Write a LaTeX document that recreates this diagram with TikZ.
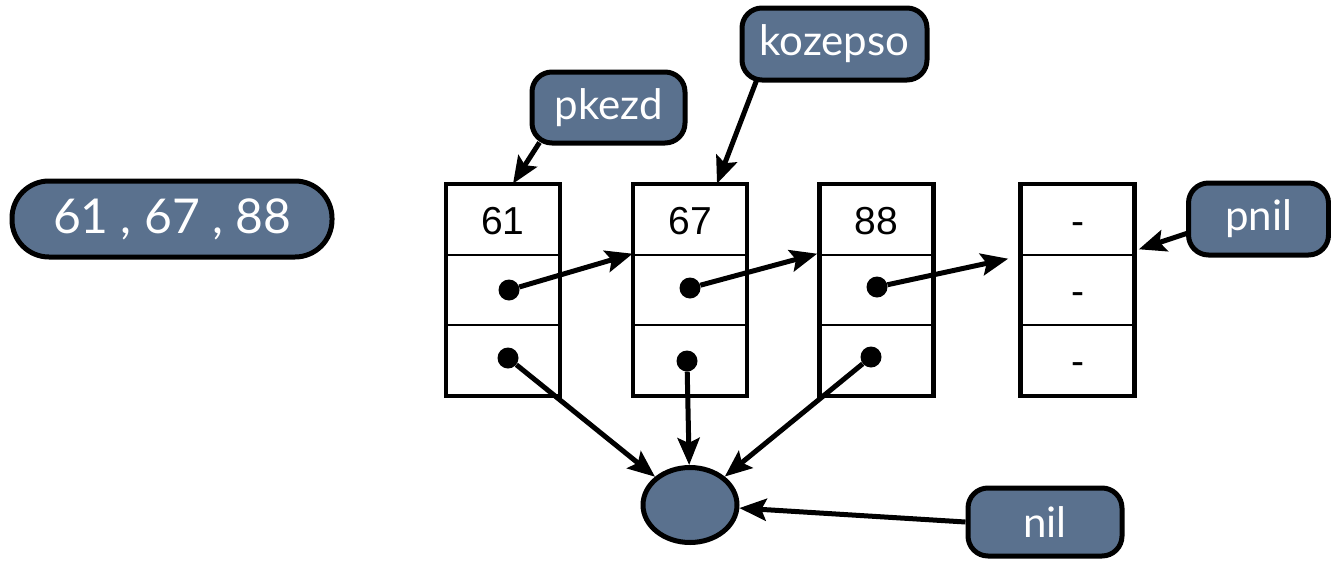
\documentclass[tikz,border=0pt]{standalone}
\usepackage{fontspec}
\setmainfont{Liberation Sans}
\newfontfamily\labelfont{Lato}
\usetikzlibrary{arrows.meta,shapes.geometric}
\definecolor{slate}{RGB}{90,113,142}

\begin{document}
\begin{tikzpicture}[x=1pt,y=-1pt,
  cell/.style={draw, line width=2.6pt, minimum width=112pt, minimum height=70pt, inner sep=0pt},
  celltext/.style={font=\fontsize{39}{39}\selectfont, text height=28pt, text depth=0pt, inner sep=0pt},
  dot/.style={circle, fill=black, minimum size=21pt, inner sep=0pt},
  tag/.style={draw, line width=5pt, fill=slate, rounded corners=20pt, text=white,
    inner sep=0pt, font=\labelfont\fontsize{42}{42}\selectfont},
  link/.style={line width=5pt, -{Stealth[length=27pt,width=22pt,inset=5pt]}},
]
\useasboundingbox (0,0) rectangle (1331,560);

% list cells: value, next pointer, list pointer
\foreach \c/\x in {1/503, 2/690, 3/876.5, 4/1077.5} {
  \node[cell] (c\c a) at (\x,220) {};
  \node[cell] (c\c b) at (\x,290) {};
  \node[cell] (c\c c) at (\x,360) {};
  \draw[line width=4pt] (c\c a.north west) rectangle (c\c c.south east);
}
\node[celltext] at (c1a) {61};
\node[celltext] at (c2a) {67};
\node[celltext] at (c3a) {88};
\node[celltext] at (c4a) {-};
\node[celltext] at (c4b) {-};
\node[celltext] at (c4c) {-};

% pointer dots
\node[dot] (d1b) at (509,290) {};
\node[dot] (d1c) at (508,358) {};
\node[dot] (d2b) at (690,288) {};
\node[dot] (d2c) at (687,361) {};
\node[dot] (d3b) at (877,287) {};
\node[dot] (d3c) at (871,357) {};

% shared end node
\node[ellipse, draw, line width=5pt, fill=slate, minimum width=94pt, minimum height=75pt,
  inner sep=0pt] (end) at (690,505) {};

% labels
\node[tag, rounded corners=37pt, minimum width=320pt, minimum height=76pt,
  font=\labelfont\fontsize{48}{48}\selectfont] (vals) at (172,219) {61 , 67 , 88};
\node[tag, minimum width=153pt, minimum height=71pt] (pk) at (608.5,107.5) {pkezd};
\node[tag, minimum width=185pt, minimum height=72pt] (koz) at (834.5,44) {kozepso};
\node[tag, minimum width=140pt, minimum height=72pt] (pn) at (1258.5,219) {pnil};
\node[tag, minimum width=154pt, minimum height=68pt] (nil) at (1045,522) {nil};

% next pointers
\draw[link] (d1b) -- (c2b.north west);
\draw[link] (d2b) -- ([xshift=-2pt]c3b.north west);
\draw[link] (d3b) -- ([xshift=-12pt,yshift=-5pt]c4b.north west);

% pointers to the end node
\draw[link] (d1c) -- (end);
\draw[link] (d2c) -- (end);
\draw[link] (d3c) -- (end);
\draw[link] (nil.west) -- (end);

% label pointers
\draw[link] ([xshift=10pt,yshift=3pt]pk.south west) -- ([xshift=10pt]c1a.north);
\draw[link] ([xshift=17pt,yshift=2pt]koz.south west) -- ([xshift=27pt]c2a.north);
\draw[link] ([xshift=2pt,yshift=-14pt]pn.west) -- ([xshift=4pt,yshift=7pt]c4a.south east);
\end{tikzpicture}
\end{document}
